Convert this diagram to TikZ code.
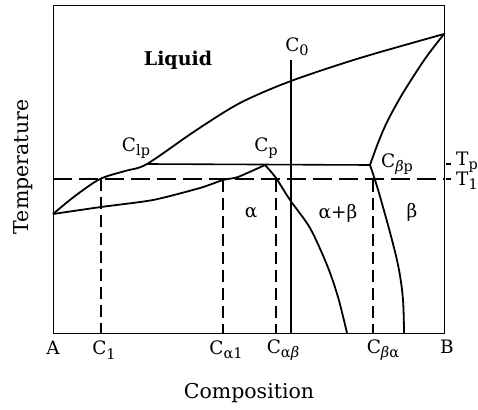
\documentclass[tikz,border=0pt]{standalone}
\usepackage{fontspec}
\setmainfont{DejaVu Serif}
\newcommand{\lbsub}[1]{\raisebox{-0.45ex}{\fontsize{14.5}{14.5}\selectfont #1}}
\newcommand{\itb}{\textit{β}}
\begin{document}
\begin{tikzpicture}[x=1pt,y=-1pt,
  frame/.style={line width=0.9pt},
  curve/.style={line width=1.8pt,line join=round},
  hdash/.style={line width=1.4pt,dash pattern=on 19pt off 7pt},
  vdash/.style={line width=1.3pt,dash pattern=on 12pt off 6pt},
  lab/.style={font=\fontsize{18.5}{18.5}\selectfont,inner sep=0pt},
  big/.style={font=\fontsize{20.5}{20.5}\selectfont,inner sep=0pt}]
\useasboundingbox (0,0) rectangle (478,409);
% frame corners
\coordinate (TL) at (53,5);
\coordinate (TR) at (444,5);
\coordinate (BL) at (53,333);
\coordinate (BR) at (444,333);
\draw[frame] (TL) -- (TR) -- (BR) -- (BL) -- cycle;
% key points
\coordinate (Lm) at (53,214);
\coordinate (Tm) at (444,34);
\coordinate (Pc) at (147,164);
\coordinate (Pp) at (265,165);
\coordinate (Pb) at (370,165);
% liquidus
\draw[curve] plot[smooth,tension=0.5] coordinates {(53,214) (75,196) (100,179) (125,171) (147,164) (195,131) (240,103) (291,81) (360,58) (444,34)};
% solidus alpha
\draw[curve] plot[smooth,tension=0.4] coordinates {(53,214) (101,207) (153,200) (200,188) (223,180) (238,177) (265,165)};
% solvus alpha
\draw[curve] plot[smooth,tension=0.5] coordinates {(265,165) (276,178) (290,200) (310,228) (327,265) (338,297) (347,333)};
% solidus beta
\draw[curve] plot[smooth,tension=0.5] coordinates {(370,165) (378,143) (387,122) (400,98) (413,77) (427,56) (444,34)};
% solvus beta
\draw[curve] plot[smooth,tension=0.6] coordinates {(370,165) (375,180) (381,200) (392,240) (399,270) (403,300) (404,333)};
% peritectic line
\draw[line width=1.6pt] (Pc) -- (Pb);
% C0 line
\coordinate (C0t) at (291,60);
\coordinate (C0b) at (291,333);
\draw[line width=1.2pt] (C0t) -- (C0b);
% T1 dashed
\coordinate (T1l) at (53,179);
\coordinate (T1r) at (444,179);
\draw[hdash] (T1l) -- (T1r);
% ticks outside
\coordinate (tp1) at (446,164); \coordinate (tp2) at (451,164);
\coordinate (t11) at (446,179); \coordinate (t12) at (451,179);
\draw[line width=1.2pt] (tp1) -- (tp2);
\draw[line width=1.2pt] (t11) -- (t12);
% vertical dashed lines
\coordinate (d1t) at (101,179); \coordinate (d1b) at (101,333);
\coordinate (d2t) at (223,180); \coordinate (d2b) at (223,333);
\coordinate (d3t) at (276,180); \coordinate (d3b) at (276,333);
\coordinate (d4t) at (373,180); \coordinate (d4b) at (373,333);
\draw[vdash] (d1t) -- (d1b);
\draw[vdash] (d2t) -- (d2b);
\draw[vdash] (d3t) -- (d3b);
\draw[vdash] (d4t) -- (d4b);
% labels
\node[inner sep=0pt,font=\fontsize{19}{19}\selectfont\bfseries] (liq) at (178,60) {Liquid};
\node[lab] (c0) at (297,47) {C\lbsub{0}};
\node[lab] (clp) at (136,148) {C\lbsub{lp}};
\node[lab] (cp) at (266,148) {C\lbsub{p}};
\node[lab] (cbp) at (397,164) {C\lbsub{\itb p}};
\node[lab,anchor=west] (tpl) at (456,162) {T\lbsub{p}};
\node[lab,anchor=west] (t1l) at (456,181) {T\lbsub{1}};
\node[lab] (alpha) at (251,213) {α};
\node[lab] (ab) at (338,213) {α+β};
\node[lab] (beta) at (412,212) {β};
\node[lab] (A) at (53,348) {A};
\node[lab] (c1) at (104,350) {C\lbsub{1}};
\node[lab] (cal) at (226,350) {C\lbsub{α1}};
\node[lab] (cab) at (283,350) {C\lbsub{α\itb}};
\node[lab] (cba) at (383,350) {C\lbsub{\itb α}};
\node[lab] (B) at (447,347) {B};
\node[big] (comp) at (249,393) {Composition};
\node[big,rotate=90] (temp) at (23,167) {Temperature};
\end{tikzpicture}
\end{document}
